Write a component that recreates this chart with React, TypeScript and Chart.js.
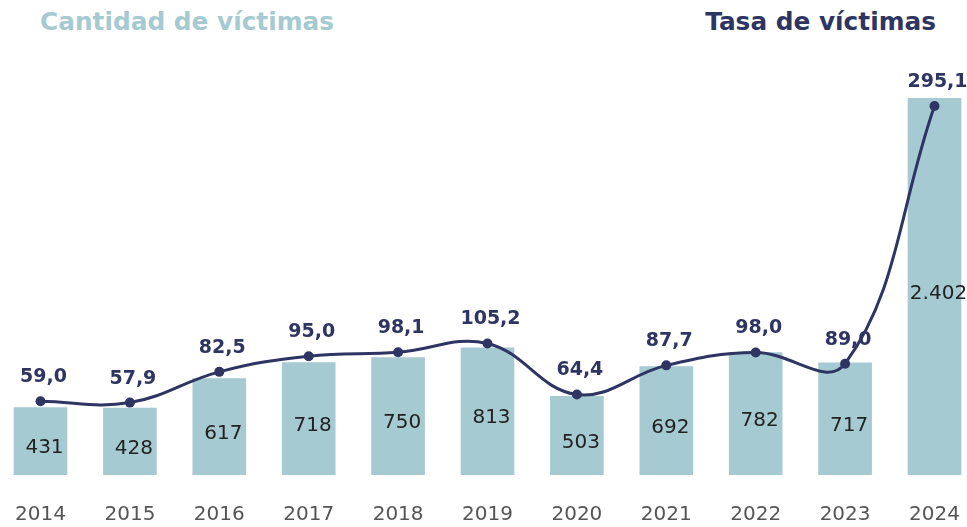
import React, { useEffect, useRef } from "react";
import { Chart, registerables } from "chart.js";

Chart.register(...registerables);

const years = ["2014", "2015", "2016", "2017", "2018", "2019", "2020", "2021", "2022", "2023", "2024"];
const victimCounts = [431, 428, 617, 718, 750, 813, 503, 692, 782, 717, 2402];
const victimRates = [59.0, 57.9, 82.5, 95.0, 98.1, 105.2, 64.4, 87.7, 98.0, 89.0, 295.1];

const BAR_COLOR = "#a5cad2";
const NAVY = "#2e3563";
const FONT = "'DejaVu Sans', 'Open Sans', sans-serif";

const fmtCount = (v: number) => v.toString().replace(/\B(?=(\d{3})+(?!\d))/g, ".");
const fmtRate = (v: number) => v.toFixed(1).replace(".", ",");

const labelPlugin = {
  id: "valueLabels",
  afterDatasetsDraw(chart: any) {
    const ctx = chart.ctx;
    ctx.save();
    const barMeta = chart.getDatasetMeta(0);
    ctx.font = `400 20px ${FONT}`;
    ctx.fillStyle = "#222222";
    ctx.textAlign = "center";
    ctx.textBaseline = "middle";
    barMeta.data.forEach((el: any, i: number) => {
      const y = (el.y + el.base) / 2 + 7;
      ctx.fillText(fmtCount(victimCounts[i]), el.x + 4, y);
    });
    const lineMeta = chart.getDatasetMeta(1);
    ctx.font = `700 19px ${FONT}`;
    ctx.fillStyle = NAVY;
    lineMeta.data.forEach((el: any, i: number) => {
      ctx.fillText(fmtRate(victimRates[i]), el.x + 3, el.y - 24);
    });
    ctx.restore();
  },
};

export default function App() {
  const canvasRef = useRef<HTMLCanvasElement | null>(null);

  useEffect(() => {
    if (!canvasRef.current) return;
    const chart = new Chart(canvasRef.current, {
      type: "bar",
      data: {
        labels: years,
        datasets: [
          {
            type: "bar",
            data: victimCounts,
            backgroundColor: BAR_COLOR,
            barPercentage: 0.6,
            categoryPercentage: 1,
            yAxisID: "y",
            order: 1,
          },
          {
            type: "line",
            data: victimRates,
            borderColor: NAVY,
            backgroundColor: NAVY,
            borderWidth: 3,
            tension: 0.4,
            pointRadius: 5,
            pointBackgroundColor: NAVY,
            pointBorderWidth: 0,
            yAxisID: "y1",
            order: 0,
            clip: false,
          } as any,
        ],
      },
      options: {
        animation: false,
        responsive: true,
        maintainAspectRatio: false,
        layout: { padding: { top: 70, left: 0, right: 0, bottom: 0 } },
        plugins: {
          legend: { display: false },
          tooltip: { enabled: false },
          title: { display: false },
        },
        scales: {
          x: {
            grid: { display: false, drawTicks: false },
            border: { display: false },
            ticks: {
              color: "#555555",
              font: { family: FONT, size: 20, weight: "400" as any },
              padding: 28,
            },
            afterFit: (scale: any) => {
              scale.height = 52;
            },
          },
          y: {
            display: false,
            min: 0,
            max: 2580,
          },
          y1: {
            display: false,
            min: 0,
            max: 323.9,
            position: "right",
          },
        },
      },
      plugins: [labelPlugin],
    });
    return () => chart.destroy();
  }, []);

  const titleBase: React.CSSProperties = {
    position: "absolute",
    top: 8,
    fontSize: 24.8,
    fontWeight: 700,
    lineHeight: "28px",
    whiteSpace: "nowrap",
  };

  return (
    <div
      style={{
        position: "fixed",
        left: 0,
        top: 0,
        width: 967,
        height: 527,
        overflow: "hidden",
        background: "#ffffff",
        fontFamily: FONT,
      }}
    >
      <div style={{ ...titleBase, left: 40, color: BAR_COLOR }}>Cantidad de víctimas</div>
      <div style={{ ...titleBase, right: 31, color: NAVY }}>Tasa de víctimas</div>
      <div style={{ position: "absolute", left: -13, top: 0, width: 1001, height: 527 }}>
        <canvas ref={canvasRef} />
      </div>
    </div>
  );
}
